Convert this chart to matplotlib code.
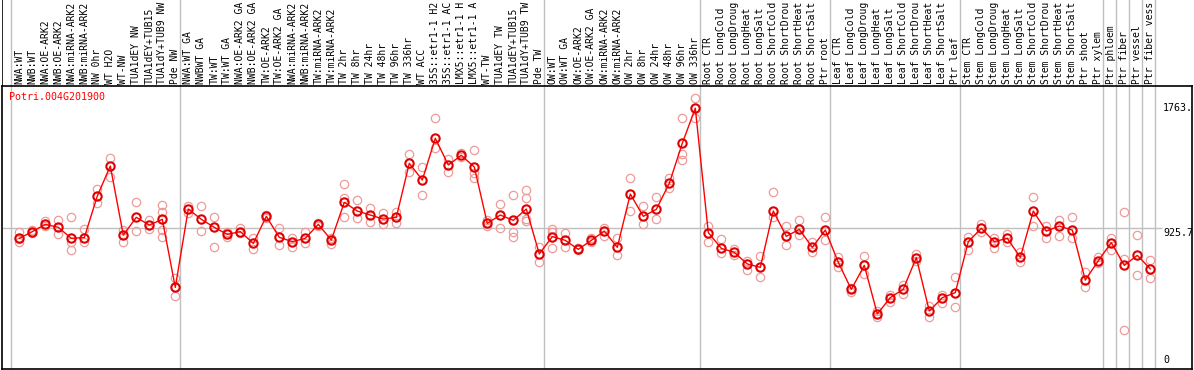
import numpy as np
import matplotlib
matplotlib.use("Agg")
import matplotlib.pyplot as plt

gene = "Potri.004G201900"
mid_value = 925.7

labels = ["NWA:WT", "NWB:WT", "NWA:OE-ARK2", "NWB:OE-ARK2", "NWA:miRNA-ARK2", "NWB:miRNA-ARK2",
          "NW 0hr", "WT H2O", "WT-NW", "TUA1dEY NW", "TUA1dEY+TUB15", "TUA1dY+TUB9 NW", "Pde NW",
          "NWA:WT GA", "NWBWT GA", "TW:WT", "TW:WT GA", "NWA:OE-ARK2 GA", "NWB:OE-ARK2 GA",
          "TW:OE-ARK2", "TW:OE-ARK2 GA", "NWA:miRNA-ARK2", "NWB:miRNA-ARK2", "TW:miRNA-ARK2",
          "TW:miRNA-ARK2", "TW 2hr", "TW 8hr", "TW 24hr", "TW 48hr", "TW 96hr", "TW 336hr", "WT ACC",
          "35S::etr1-1 H2", "35S::etr1-1 AC", "LMX5::etr1-1 H", "LMX5::etr1-1 A", "WT-TW",
          "TUA1dEY TW", "TUA1dEY+TUB15", "TUA1dY+TUB9 TW", "Pde TW",
          "OW:WT", "OW:WT GA", "OW:OE-ARK2", "OW:OE-ARK2 GA", "OW:miRNA-ARK2", "OW:miRNA-ARK2",
          "OW 2hr", "OW 8hr", "OW 24hr", "OW 48hr", "OW 96hr", "OW 336hr",
          "Root CTR", "Root LongCold", "Root LongDroug", "Root LongHeat", "Root LongSalt",
          "Root ShortCold", "Root ShortDrou", "Root ShortHeat", "Root ShortSalt", "Ptr root",
          "Leaf CTR", "Leaf LongCold", "Leaf LongDroug", "Leaf LongHeat", "Leaf LongSalt",
          "Leaf ShortCold", "Leaf ShortDrou", "Leaf ShortHeat", "Leaf ShortSalt", "Ptr leaf",
          "Stem CTR", "Stem LongCold", "Stem LongDroug", "Stem LongHeat", "Stem LongSalt",
          "Stem ShortCold", "Stem ShortDrou", "Stem ShortHeat", "Stem ShortSalt", "Ptr shoot",
          "Ptr xylem", "Ptr phloem", "Ptr fiber", "Ptr vessel", "Ptr fiber vess"]

# group sizes between the grey separators
group_sizes = [13, 28, 12, 10, 10, 11, 1, 1, 1, 1]

means = [853, 900, 951, 930, 853, 858, 1149, 1359, 876, 1000, 946, 986, 510,
         1058, 986, 930, 881, 900, 818, 1007, 860, 830, 853, 951, 841, 1105, 1044, 1016, 988,
         1000, 1378, 1261, 1553, 1366, 1434, 1352, 958, 1016, 979, 1058, 744,
         865, 839, 776, 839, 904, 790, 1163, 1007, 1056, 1238, 1518, 1763,
         893, 783, 755, 674, 650, 1044, 867, 916, 790, 911,
         685, 496, 664, 324, 438, 498, 718, 345, 438, 473,
         830, 923, 830, 853, 720, 1044, 904, 939, 911, 561, 697,
         823, 664, 734, 639]

reps = [[895, 830, 849], [911, 891], [971, 937], [978, 881], [1002, 772, 830], [916, 830],
        [1198, 1098], [1413, 1284], [911, 830], [1105, 904], [981, 916], [1086, 1040, 911, 865],
        [577, 447],
        [1079, 1028], [1077, 904], [1002, 790], [895, 865], [928, 888], [853, 779], [1016, 998],
        [923, 806], [858, 795], [895, 818], [961, 942], [853, 813], [1231, 1137, 1002],
        [1119, 993], [1067, 965], [1028, 951], [1040, 963], [1441, 1320], [1350, 1156],
        [1693, 1483], [1408, 1315], [1448, 1424], [1471, 1308, 1273], [981, 942], [1091, 923],
        [1156, 900, 865], [1191, 1133, 988, 974], [795, 685],
        [916, 895, 788], [893, 795], [788, 769], [858, 825], [928, 869], [853, 734], [1273, 1046],
        [1077, 951], [1140, 986], [1273, 1203], [1697, 1441, 1401], [1832, 1697],
        [939, 825], [846, 748], [779, 737], [697, 634], [730, 580], [1175, 1002], [939, 806],
        [979, 876], [830, 755], [1002, 841],
        [720, 655], [508, 480], [730, 604], [345, 301], [456, 405], [527, 464], [741, 697],
        [382, 301], [456, 398], [585, 371],
        [865, 772], [951, 900], [858, 783], [881, 830], [760, 690], [1140, 939], [939, 858],
        [981, 869], [1000, 858], [620, 515], [725, 683],
        [853, 769], [1037, 709, 210], [876, 594], [699, 578]]

x = np.arange(len(labels))
boundaries = np.concatenate([[0], np.cumsum(group_sizes)]) - 0.65

W, H = 1194, 370
fig = plt.figure(figsize=(W / 100, H / 100), dpi=100)
xlim = ((2 - 19.3) / 13, (1192 - 19.3) / 13)

# label strip
lab = fig.add_axes([2 / W, (H - 86) / H, 1190 / W, 86 / H])
lab.set_xlim(xlim)
lab.set_ylim(0, 86)
lab.axis("off")
for b in boundaries:
    lab.axvline(b, color="#c0c0c0", lw=1)
lab.axvline(xlim[0] + 0.01, color="black", lw=1.2)
for xi, t in zip(x, labels):
    lab.text(xi, 2, t, rotation=90, ha="center", va="bottom", fontsize=7,
             family="DejaVu Sans Mono")

# main plot
ax = fig.add_axes([2 / W, 1 / H, 1190 / W, 283 / H])
ax.set_xlim(xlim)
ax.set_ylim(-60.9, 1918.7)
ax.set_xticks([])
ax.set_yticks([])
for s in ax.spines.values():
    s.set_linewidth(1.2)

for b in boundaries:
    ax.axvline(b, color="#c0c0c0", lw=1, zorder=1)
ax.hlines(mid_value, xlim[0], 87.9, color="#c0c0c0", lw=1, zorder=1)

for xi, r in zip(x, reps):
    ax.plot([xi] * len(r), r, "o", ms=6, mfc="none", mec="#ee9a9a", mew=0.9, zorder=2)
ax.plot(x, means, "-", color="red", lw=1, zorder=3)
ax.plot(x, means, "o", ms=6, mfc="none", mec="#e00000", mew=1.5, zorder=4)

ax.text(0.0059, 0.961, gene, transform=ax.transAxes, color="red", fontsize=7.2,
        family="DejaVu Sans Mono", ha="left", va="center")

tx = 87.98
ax.text(tx, max(means), f"{max(means)}.", fontsize=7.2, family="DejaVu Sans Mono",
        ha="left", va="center")
ax.text(tx, mid_value, f"{mid_value}", fontsize=7.2, family="DejaVu Sans Mono",
        ha="left", va="top")
ax.text(tx, 0, "0", fontsize=7.2, family="DejaVu Sans Mono", ha="left", va="center")

fig.savefig("out.png", dpi=100)
